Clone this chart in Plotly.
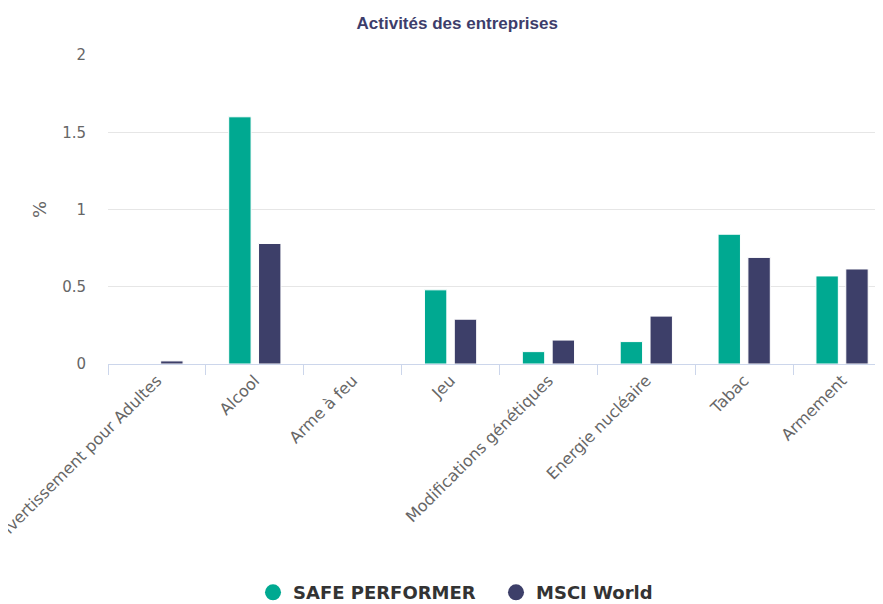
import plotly.graph_objects as go

# ---------- Data ----------
categories = [
    "Divertissement pour Adultes",
    "Alcool",
    "Arme à feu",
    "Jeu",
    "Modifications génétiques",
    "Energie nucléaire",
    "Tabac",
    "Armement",
]
safe_performer = [0.0, 1.60, 0.0, 0.48, 0.08, 0.145, 0.84, 0.57]
msci_world = [0.02, 0.78, 0.0, 0.29, 0.155, 0.31, 0.69, 0.615]

series_names = ["SAFE PERFORMER", "MSCI World"]
series_colors = ["#00a991", "#3d3f69"]

title_text = "Activités des entreprises"
y_title = "%"
y_ticks = [0, 0.5, 1, 1.5, 2]

# ---------- Figure ----------
fig = go.Figure()

for name, vals, color in zip(series_names, [safe_performer, msci_world], series_colors):
    fig.add_trace(go.Bar(
        x=categories, y=vals, name=name,
        marker=dict(color=color, line=dict(color="white", width=1)),
        showlegend=False,
    ))
    # legend-only entry with a round symbol
    fig.add_trace(go.Scatter(
        x=[None], y=[None], mode="markers", name=name,
        marker=dict(color=color, size=17, symbol="circle"),
    ))

# page has a small body margin, so the figure is shifted a few px
fig.update_layout(
    width=883, height=604,
    margin=dict(l=100, r=0, t=47, b=239),
    plot_bgcolor="white", paper_bgcolor="white",
    font=dict(family="DejaVu Sans", color="#666666"),
    title=dict(
        text=title_text, xref="paper", x=0.446, xanchor="center",
        y=0.975, yanchor="middle",
        font=dict(family="Liberation Sans", size=17, color="#3d3d6b", weight="bold"),
    ),
    barmode="group", bargap=0.39, bargroupgap=0.25,
    legend=dict(
        orientation="h", x=0.1852, xanchor="left", y=-0.74, yanchor="middle",
        font=dict(family="DejaVu Sans", size=18, color="#333333", weight="bold"),
        itemsizing="trace", entrywidth=198, entrywidthmode="pixels",
    ),
)

fig.update_xaxes(
    type="category", range=[-0.5, 7.5],
    showline=True, linecolor="#ccd6eb", linewidth=1,
    ticks="outside", ticklen=10, tickcolor="#ccd6eb", tickson="boundaries",
    tickangle=-45, tickfont=dict(size=16, color="#666666"),
    showgrid=False, automargin=False,
)
fig.update_yaxes(
    range=[0, 2], tickvals=y_ticks, ticktext=[f"{v:g}" for v in y_ticks],
    showgrid=True, gridcolor="#e6e6e6", gridwidth=1, zeroline=False,
    showline=False, tickfont=dict(size=15, color="#666666"),
    ticklabelstandoff=21,
    title=dict(text=y_title, font=dict(size=18, color="#666666"), standoff=10),
    automargin=False,
)

fig.write_html("out.html")
